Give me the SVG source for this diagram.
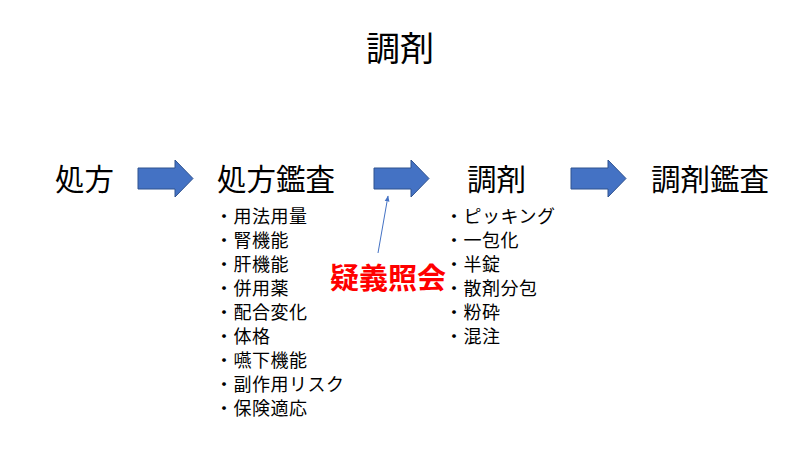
<svg xmlns="http://www.w3.org/2000/svg" width="800" height="450" viewBox="0 0 800 450">
<style>
text{font-family:"Noto Sans CJK JP","Noto Sans CJK SC",sans-serif;fill:#000}
.big{font-size:29.5px}
.li{font-size:18px;letter-spacing:0.5px}
.blk{fill:#4472C4;stroke:#2F528F;stroke-width:1}
</style>
<defs><marker id="m" viewBox="0 0 10 10" refX="9" refY="5" markerWidth="6" markerHeight="6" orient="auto"><path d="M0,1 L10,5 L0,9 z" fill="#4472C4"/></marker></defs>
<rect width="800" height="450" fill="#fff"/>
<text x="400" y="61" text-anchor="middle" font-size="34">調剤</text>
<g id="n1"><text class="big" x="55" y="190">処方</text></g>
<g id="n2"><text class="big" x="217" y="190">処方鑑査</text>
<text class="li" x="215" y="223">・用法用量</text><text class="li" x="215" y="247">・腎機能</text><text class="li" x="215" y="271">・肝機能</text><text class="li" x="215" y="295">・併用薬</text><text class="li" x="215" y="319">・配合変化</text><text class="li" x="215" y="343">・体格</text><text class="li" x="215" y="367">・嚥下機能</text><text class="li" x="215" y="391">・副作用リスク</text><text class="li" x="215" y="415">・保険適応</text></g>
<g id="n3"><text class="big" x="467" y="190">調剤</text>
<text class="li" x="445" y="223">・ピッキング</text><text class="li" x="445" y="247">・一包化</text><text class="li" x="445" y="271">・半錠</text><text class="li" x="445" y="295">・散剤分包</text><text class="li" x="445" y="319">・粉砕</text><text class="li" x="445" y="343">・混注</text></g>
<g id="n4"><text class="big" x="651" y="190">調剤鑑査</text></g>
<g id="n5"><text x="330" y="289" font-size="29" font-weight="bold" style="fill:#FF0000">疑義照会</text></g>
<g id="connectors">
<path class="blk" d="M138,168 H175 V160 L193,178.5 L175,197 V189 H138 Z"/>
<path class="blk" d="M374,168 H411 V160 L429,178.5 L411,197 V189 H374 Z"/>
<path class="blk" d="M571,168 H608 V160 L626,178.5 L608,197 V189 H571 Z"/>
<line x1="378" y1="253" x2="388" y2="196" stroke="#4472C4" stroke-width="1" marker-end="url(#m)"/>
</g>
</svg>
